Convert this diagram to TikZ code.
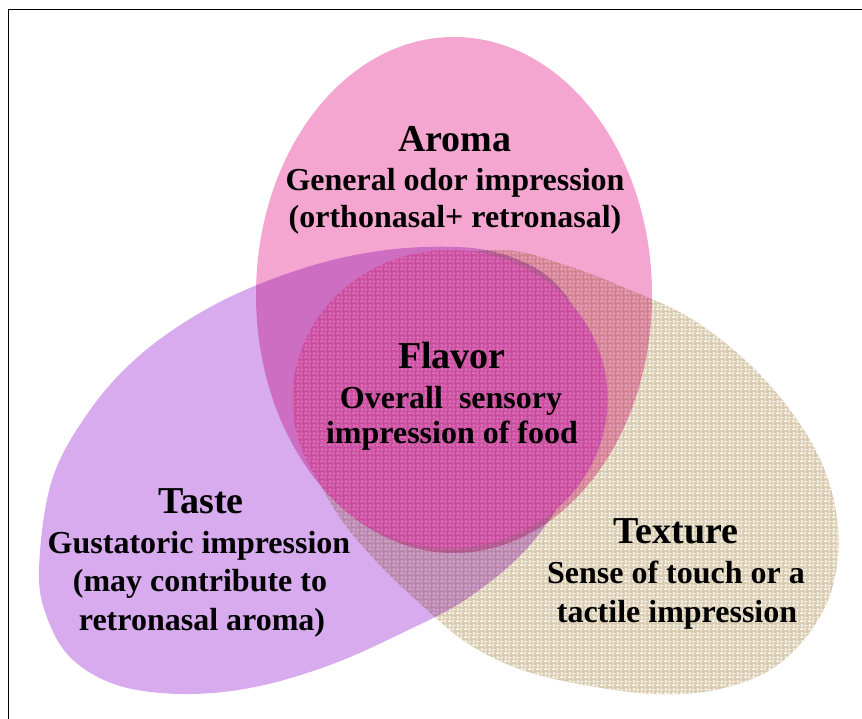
\documentclass[tikz,border=0pt]{standalone}
\usepackage{fontspec}
\setmainfont{Liberation Serif}
\usetikzlibrary{patterns.meta}

\definecolor{aromaC}{RGB}{244,166,208}
\definecolor{tasteC}{RGB}{216,170,238}
\definecolor{burlapC}{RGB}{216,202,174}
\definecolor{threadC}{RGB}{248,244,234}
\definecolor{flavorC}{RGB}{202,76,158}
\definecolor{flavorT}{RGB}{220,112,184}

\tikzdeclarepattern{
  name=weave,
  type=uncolored,
  bounding box={(0pt,0pt) and (8pt,8pt)},
  tile size={(8pt,8pt)},
  code={
    \pgfsetlinewidth{1.8pt}
    \pgfsetbuttcap
    \pgfpathmoveto{\pgfpoint{0pt}{2pt}}\pgfpathlineto{\pgfpoint{4pt}{2pt}}
    \pgfpathmoveto{\pgfpoint{6pt}{0pt}}\pgfpathlineto{\pgfpoint{6pt}{4pt}}
    \pgfpathmoveto{\pgfpoint{2pt}{4pt}}\pgfpathlineto{\pgfpoint{2pt}{8pt}}
    \pgfpathmoveto{\pgfpoint{4pt}{6pt}}\pgfpathlineto{\pgfpoint{8pt}{6pt}}
    \pgfusepath{stroke}
  }
}

\tikzset{
  titletext/.style={font=\bfseries\fontsize{38}{40}\selectfont, anchor=base, inner sep=0pt},
  bodytext/.style={font=\bfseries\fontsize{32}{34}\selectfont, anchor=base, inner sep=0pt},
  frameline/.style={line width=1.5pt, black}
}

\begin{document}
\begin{tikzpicture}[x=1pt, y=-1pt]
\useasboundingbox (0,0) rectangle (862,719);
\fill[white] (0,0) rectangle (862,719);
\draw[frameline] (8.5,719) -- (8.5,9.5) -- (862,9.5);

% Texture (burlap)
\def\texturepath{plot[smooth cycle, tension=0.6] coordinates {
  (500,250) (565,265) (630,290) (690,318) (745,360) (790,410) (823,466)
  (838,527) (833,585) (810,632) (770,670) (715,690) (655,694) (590,686)
  (525,671) (470,645) (425,608) (375,560) (335,510) (307,450) (306,385)
  (340,320) (415,266)}}
\fill[burlapC] \texturepath;
\fill[pattern=weave, pattern color=threadC] \texturepath;

\begin{scope}[blend mode=multiply]
  % Aroma
  \fill[aromaC] (454,295) ellipse [x radius=198pt, y radius=258pt];
  % Taste
  \fill[tasteC] plot[smooth cycle, tension=0.6] coordinates {
    (39,570) (52,480) (90,410) (140,355) (205,310) (275,278) (350,256)
    (425,247) (495,252) (552,280) (586,335) (594,405) (575,475) (530,545)
    (468,598) (402,633) (330,665) (255,687) (185,694) (120,686) (73,660)
    (48,620)};
\end{scope}

% Flavor
\fill[flavorC] (450,399) ellipse [x radius=157.5pt, y radius=149pt];
\fill[pattern=weave, pattern color=flavorT] (450,399) ellipse [x radius=157.5pt, y radius=149pt];

% Texts
\node[titletext] (aromaT) at (455,152) {Aroma};
\node[bodytext] (aroma1) at (455,191) {General odor impression};
\node[bodytext] (aroma2) at (455,228) {(orthonasal+ retronasal)};

\node[titletext] (flavorT) at (452,368) {Flavor};
\node[bodytext] (flavor1) at (451,408) {Overall\ \ sensory};
\node[bodytext] (flavor2) at (452,443) {impression of food};

\node[titletext] (tasteT) at (201,513) {Taste};
\node[bodytext] (taste1) at (199,553) {Gustatoric impression};
\node[bodytext] (taste2) at (200,591) {(may contribute to};
\node[bodytext] (taste3) at (202,630) {retronasal aroma)};

\node[titletext] (textureT) at (676,543) {Texture};
\node[bodytext] (texture1) at (676,583) {Sense of touch or a};
\node[bodytext] (texture2) at (677,622) {tactile impression};
\end{tikzpicture}
\end{document}
